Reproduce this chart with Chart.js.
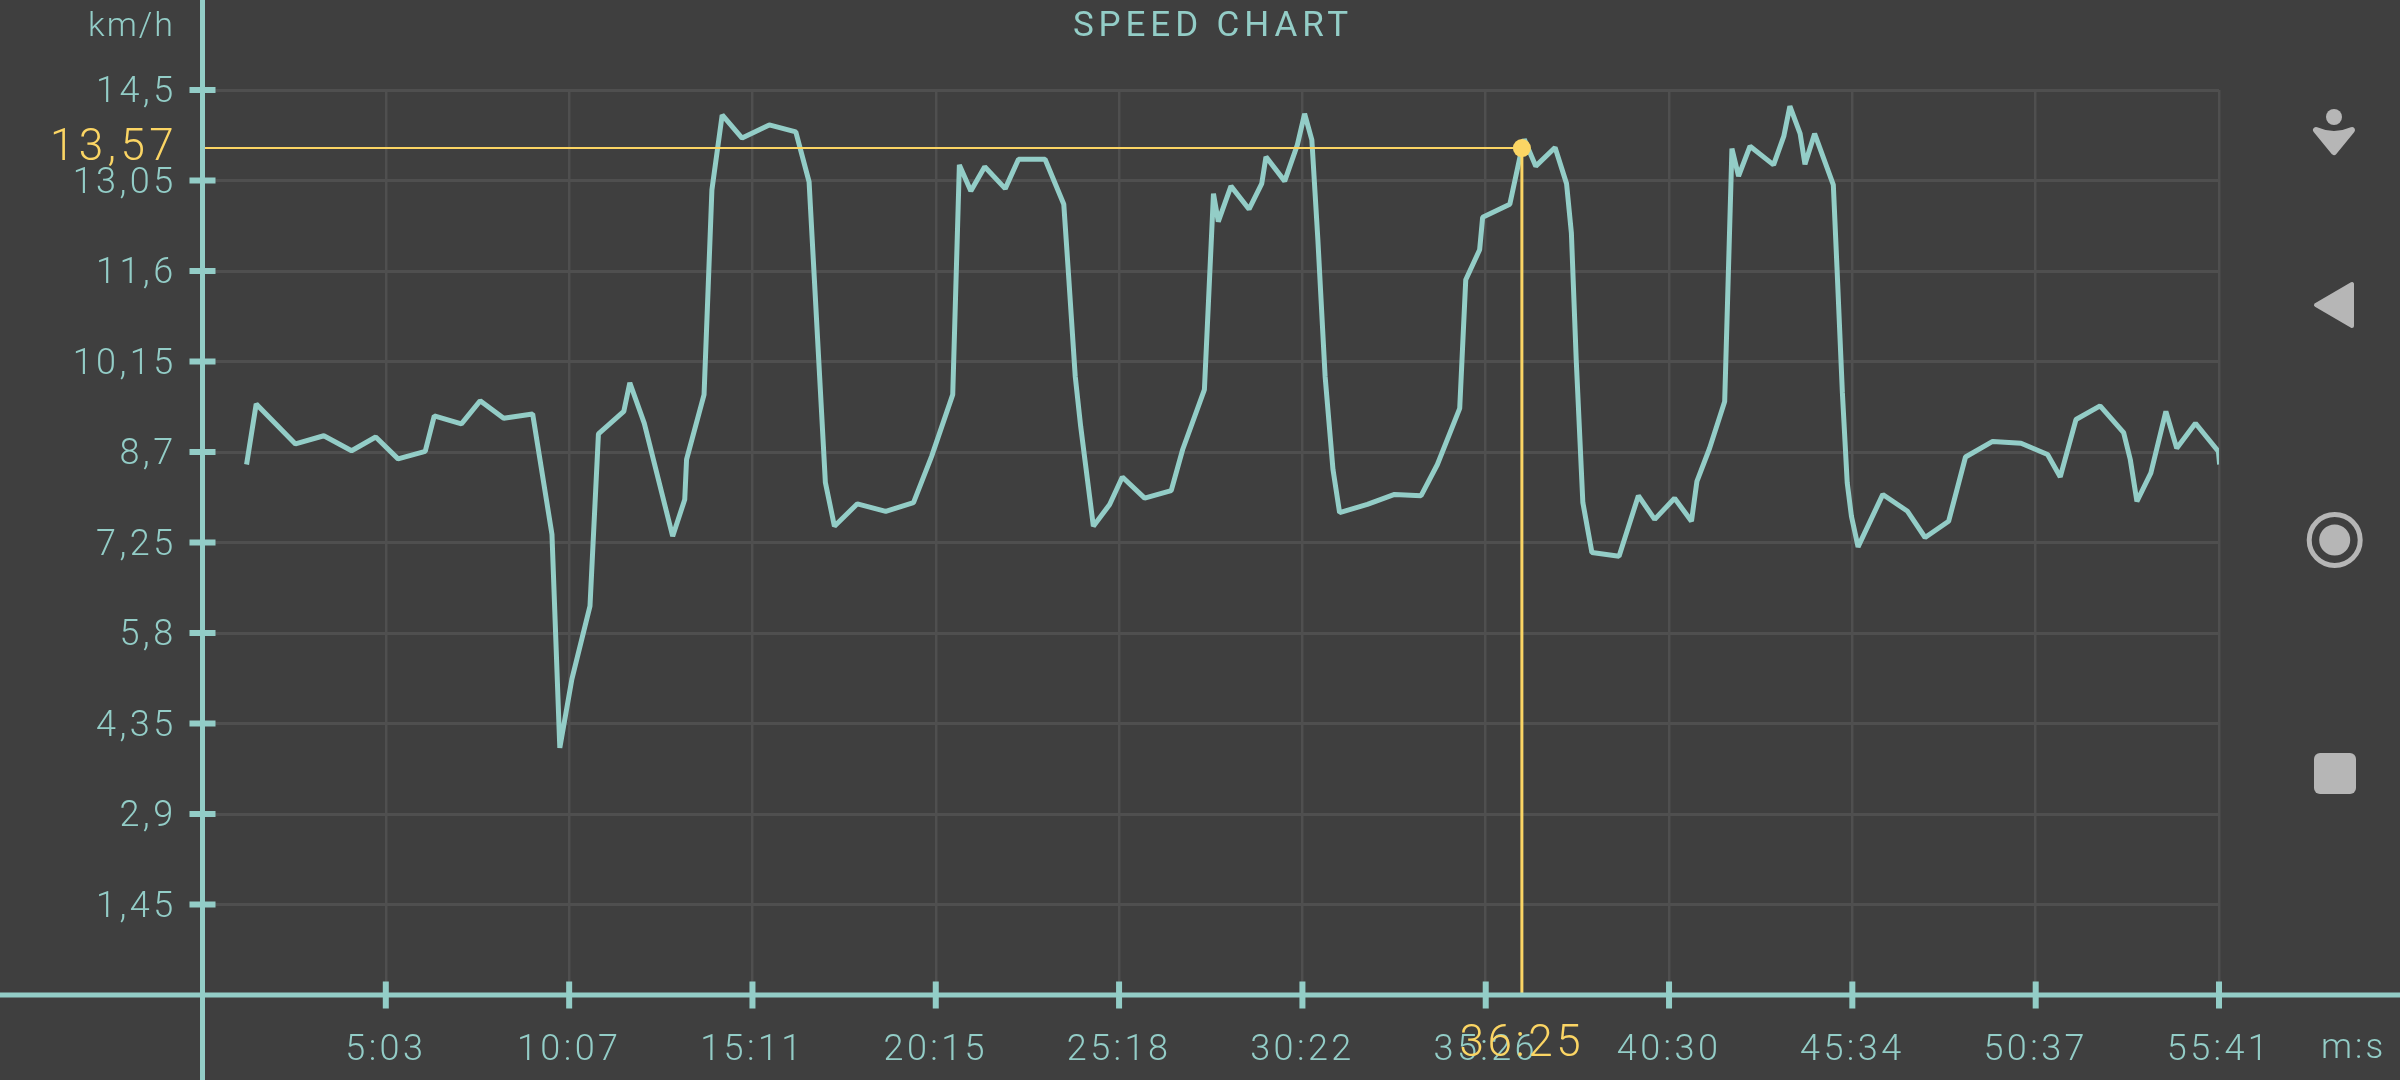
<!DOCTYPE html>
<html><head><meta charset="utf-8">
<style>html,body{margin:0;padding:0;background:#3f3f3f;overflow:hidden}canvas{display:block}</style>
<script src="https://cdn.jsdelivr.net/npm/chart.js@4"></script>
</head><body><div style="width:2400px;height:1080px"><canvas id="c" width="2400" height="1080"></canvas></div>
<script>
const seconds=[73,89,154,201,247,287,324,369,384,429,460,499,547,579,592,612,642,656,698,708,732,779,799,802,831,844,861,894,939,983,1005,1032,1047,1085,1132,1178,1208,1243,1254,1273,1296,1330,1352,1396,1427,1434,1446,1455,1476,1503,1524,1561,1605,1624,1660,1675,1683,1704,1734,1755,1762,1793,1814,1826,1838,1848,1860,1873,1884,1930,1975,2019,2046,2083,2093,2116,2121,2166,2186,2190,2209,2241,2260,2268,2276,2287,2302,2347,2379,2406,2439,2467,2476,2497,2522,2534,2545,2564,2603,2620,2630,2647,2655,2671,2702,2708,2717,2725,2732,2743,2784,2825,2854,2893,2921,2966,3013,3057,3078,3104,3144,3183,3194,3205,3228,3253,3271,3302,3340,3342];
const speeds=[8.50,9.47,8.83,8.96,8.72,8.94,8.59,8.71,9.28,9.15,9.52,9.24,9.31,7.38,3.96,5.06,6.23,8.99,9.35,9.81,9.16,7.35,7.94,8.58,9.62,12.90,14.10,13.73,13.94,13.83,13.03,8.21,7.51,7.87,7.75,7.89,8.63,9.62,13.30,12.88,13.27,12.92,13.39,13.39,12.67,11.67,9.91,9.11,7.51,7.86,8.30,7.96,8.08,8.74,9.70,12.84,12.39,12.96,12.59,13.00,13.43,13.04,13.62,14.12,13.70,12.10,9.91,8.42,7.73,7.86,8.02,8.00,8.50,9.40,11.46,11.94,12.46,12.67,13.57,13.71,13.28,13.58,13.00,12.21,10.18,7.89,7.09,7.03,8.00,7.62,7.96,7.59,8.23,8.76,9.51,13.56,13.12,13.60,13.30,13.76,14.24,13.80,13.31,13.80,12.98,11.67,9.65,8.21,7.67,7.18,8.02,7.75,7.33,7.59,8.62,8.87,8.84,8.66,8.30,9.22,9.44,9.01,8.58,7.91,8.36,9.35,8.76,9.16,8.71,8.50];
const xTickLabels=["5:03","10:07","15:11","20:15","25:18","30:22","35:26","40:30","45:34","50:37","55:41"];
const xTickSeconds=[303.7,607.5,911.2,1214.9,1518.6,1822.4,2126.1,2429.8,2733.5,3037.3,3341];
const yTickLabels=["1,45","2,9","4,35","5,8","7,25","8,7","10,15","11,6","13,05","14,5"];
const yTickValues=[1.45,2.9,4.35,5.8,7.25,8.7,10.15,11.6,13.05,14.5];
const cursorSeconds=2186, cursorSpeed=13.57;
const cursorTimeLabel="36:25", cursorSpeedLabel="13,57";
const titleText="SPEED CHART", yUnit="km/h", xUnit="m:s";

const TEAL="#93cdc7",YEL="#fbd564",GRID="#4f4f4f",BG="#3f3f3f",ICON="#b6b6b6";
const FONT="Roboto";

const frame={id:'frame',
 beforeDraw(ch){const c=ch.ctx;c.fillStyle=BG;c.fillRect(0,0,2400,1080);c.letterSpacing='3.4px';},
 afterDatasetsDraw(ch){
  const c=ch.ctx,xs=ch.scales.x,ys=ch.scales.y,ax=xs.left,ay=ys.bottom;
  c.save();
  c.strokeStyle=TEAL;c.lineWidth=5;c.beginPath();
  c.moveTo(ax,0);c.lineTo(ax,1080);c.moveTo(0,ay);c.lineTo(2400,ay);c.stroke();
  c.lineWidth=6;c.beginPath();
  yTickValues.forEach(v=>{const p=ys.getPixelForValue(v);c.moveTo(ax-13,p);c.lineTo(ax+13,p);});
  xTickSeconds.forEach(v=>{const p=xs.getPixelForValue(v);c.moveTo(p,ay-13.5);c.lineTo(p,ay+13.5);});
  c.stroke();
  c.textBaseline='alphabetic';
  c.fillStyle=TEAL;
  c.font='300 34px '+FONT;c.letterSpacing='2px';
  c.textAlign='right';c.fillText(yUnit,175,36);
  c.font='400 35px '+FONT;c.letterSpacing='4.9px';
  c.textAlign='center';c.fillText(titleText,1213,36);
  c.font='300 35px '+FONT;c.letterSpacing='3px';
  c.textAlign='left';c.fillText(xUnit,2321,1058);
  c.fillStyle=YEL;c.font='300 44px '+FONT;c.letterSpacing='4.4px';
  c.textAlign='right';c.fillText(cursorSpeedLabel,178,160);
  c.letterSpacing='3.6px';
  c.textAlign='center';c.fillText(cursorTimeLabel,xs.getPixelForValue(cursorSeconds),1056);
  c.letterSpacing='0px';
  c.fillStyle=ICON;c.strokeStyle=ICON;c.lineJoin='round';
  c.beginPath();c.arc(2334,117,8,0,7);c.fill();
  c.lineWidth=6;
  c.beginPath();c.moveTo(2316,130);c.quadraticCurveTo(2334,138,2352,130);c.lineTo(2334,152);c.closePath();c.fill();c.stroke();
  c.lineWidth=4;
  c.beginPath();c.moveTo(2316,305);c.lineTo(2352,284);c.lineTo(2352,326);c.closePath();c.fill();c.stroke();
  c.lineWidth=5;c.beginPath();c.arc(2334.7,540,25.5,0,7);c.stroke();
  c.beginPath();c.arc(2334.7,540,15.5,0,7);c.fill();
  c.beginPath();c.roundRect(2314,753,42,41,6);c.fill();
  c.restore();
 }};

function nudgeLabels(dy){return function(s){
  if(s._nudged)return;s._nudged=true;
  const g=s.getLabelItems.bind(s);
  s.getLabelItems=a=>g(a).map(it=>Object.assign({},it,{textOffset:it.textOffset+dy}));
};}

new Chart(document.getElementById('c'),{
 type:'line',
 data:{datasets:[
  {label:'speed',data:seconds.map((s,i)=>({x:s,y:speeds[i]})),borderColor:TEAL,borderWidth:5,borderJoinStyle:'bevel',pointRadius:0,tension:0,order:3},
  {label:'cursorH',data:[{x:0,y:cursorSpeed},{x:cursorSeconds,y:cursorSpeed}],borderColor:YEL,borderWidth:2,pointRadius:0,order:2},
  {label:'cursorV',data:[{x:cursorSeconds,y:cursorSpeed},{x:cursorSeconds,y:0}],borderColor:YEL,borderWidth:3,pointRadius:0,order:1},
  {label:'cursor',data:[{x:cursorSeconds,y:cursorSpeed}],borderColor:YEL,backgroundColor:YEL,pointRadius:9,pointBorderWidth:0,order:0}
 ]},
 options:{responsive:false,animation:false,devicePixelRatio:1,
  layout:{padding:{left:0,right:181,top:90,bottom:0}},
  plugins:{legend:{display:false},tooltip:{enabled:false},title:{display:false}},
  scales:{
   x:{type:'linear',min:0,max:3341,
    afterFit(s){s.height=85;},
    afterBuildTicks(s){s.ticks=xTickSeconds.map(v=>({value:v}));},
    border:{display:false},
    grid:{color:GRID,lineWidth:2.5,drawTicks:false},
    ticks:{color:TEAL,autoSkip:false,maxRotation:0,padding:34,
     font:{family:FONT,size:36,weight:'300'},
     callback(v,i){return xTickLabels[i];}}},
   y:{type:'linear',min:0,max:14.5,
    afterFit(s){s.width=202.5;},
    afterBuildTicks(s){s.ticks=yTickValues.map(v=>({value:v}));},
    afterUpdate:nudgeLabels(3),
    border:{display:false},
    grid:{color:GRID,lineWidth:3,drawTicks:false},
    ticks:{color:TEAL,autoSkip:false,padding:26,
     font:{family:FONT,size:36,weight:'300'},
     callback(v,i){return yTickLabels[i];}}}
  }},
 plugins:[frame]
});
</script></body></html>
